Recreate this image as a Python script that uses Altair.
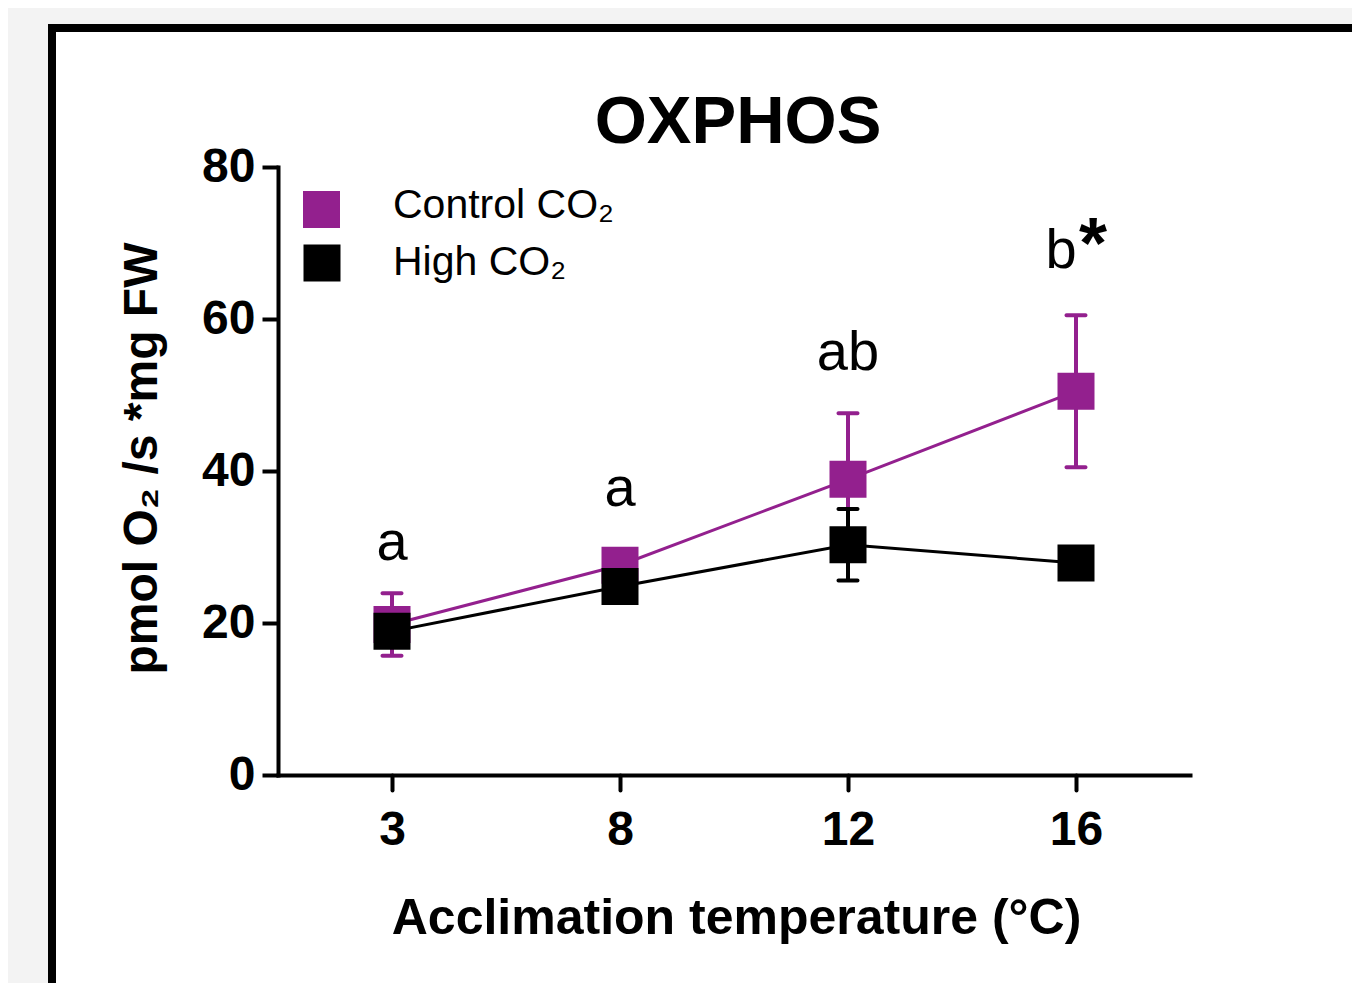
import altair as alt
import pandas as pd

# ---- data ----
temps = ["3", "8", "12", "16"]
control_mean = [19.8, 27.6, 38.9, 50.5]
control_sem = [4.1, 2.0, 8.7, 10.0]
high_mean = [18.9, 24.8, 30.3, 27.9]
high_sem = [2.0, 1.8, 4.7, 2.0]
series_names = ["Control CO₂", "High CO₂"]
series_colors = ["#93208e", "#000000"]
letters = ["a", "a", "ab", "b"]
letter_y = [28.3, 35.4, 53.3, 66.7]
star_text = ["", "", "", "*"]
y_ticks = [0, 20, 40, 60, 80]

FONT = "Liberation Sans, Arial, Helvetica, sans-serif"
W, H = 912, 608


def series_df(means, sems):
    return pd.DataFrame({
        "temp": temps,
        "mean": means,
        "lo": [m - s for m, s in zip(means, sems)],
        "hi": [m + s for m, s in zip(means, sems)],
    })


ctrl = series_df(control_mean, control_sem)
high = series_df(high_mean, high_sem)
ann = pd.DataFrame({"temp": temps, "y": letter_y, "letter": letters, "star": star_text})
one = pd.DataFrame({"k": [0]})

x_enc = alt.X(
    "temp:O",
    sort=temps,
    scale=alt.Scale(type="point", padding=0.5, domain=temps),
    axis=alt.Axis(
        title="Acclimation temperature (°C)",
        labelAngle=0,
        labelFont=FONT, labelFontSize=48, labelFontWeight="bold", labelColor="black",
        labelPadding=16,
        titleFont=FONT, titleFontSize=50, titleFontWeight="bold", titleColor="black",
        titleX=458, titleY=158, titleBaseline="alphabetic", titleAlign="center",
        domainColor="black", domainWidth=4, domainCap="square",
        tickColor="black", tickWidth=4, tickSize=15, tickCap="round",
        grid=False, zindex=1,
    ),
)
y_enc = alt.Y(
    "mean:Q",
    scale=alt.Scale(domain=[0, 80], nice=False, zero=True),
    axis=alt.Axis(
        title="pmol O₂ /s *mg FW",
        values=y_ticks,
        labelFont=FONT, labelFontSize=48, labelFontWeight="bold", labelColor="black",
        labelPadding=7,
        titleFont=FONT, titleFontSize=48, titleFontWeight="bold", titleColor="black",
        titleAngle=270, titleX=-136, titleY=291, titleBaseline="middle", titleAlign="center",
        domainColor="black", domainWidth=4, domainCap="square",
        tickColor="black", tickWidth=4, tickSize=16,
        grid=False, zindex=1,
    ),
)

# white slide panel with black frame
panel = alt.Chart(one).mark_rect(fill="white", stroke="black", strokeWidth=8).encode(
    x=alt.value(-226), x2=alt.value(W + 220), y=alt.value(-139), y2=alt.value(H + 260)
)


def series_layers(df, color):
    base = alt.Chart(df)
    rule = base.mark_rule(color=color, strokeWidth=4).encode(x=x_enc, y=alt.Y("lo:Q"), y2="hi:Q")
    cap_hi = base.mark_tick(color=color, thickness=4, size=23, cornerRadius=2, opacity=1).encode(x=x_enc, y=alt.Y("hi:Q"))
    cap_lo = base.mark_tick(color=color, thickness=4, size=23, cornerRadius=2, opacity=1).encode(x=x_enc, y=alt.Y("lo:Q"))
    line = base.mark_line(color=color, strokeWidth=3).encode(x=x_enc, y=y_enc)
    pts = base.mark_square(color=color, size=1369, opacity=1).encode(x=x_enc, y=y_enc)
    return [rule, cap_hi, cap_lo, line, pts]


layers = [panel]
layers += series_layers(ctrl, series_colors[0])
layers += series_layers(high, series_colors[1])

letter_plain = alt.Chart(ann).transform_filter(alt.datum.star == "").mark_text(
    font=FONT, fontSize=56, color="black", baseline="alphabetic", align="center"
).encode(x=x_enc, y=alt.Y("y:Q"), text="letter:N")
letter_starred = alt.Chart(ann).transform_filter(alt.datum.star != "").mark_text(
    font=FONT, fontSize=56, color="black", baseline="alphabetic", align="center", dx=-15
).encode(x=x_enc, y=alt.Y("y:Q"), text="letter:N")
star_layer = alt.Chart(ann).transform_filter(alt.datum.star != "").mark_text(
    font=FONT, fontSize=72, fontWeight="bold", color="black", baseline="alphabetic", align="center", dx=17
).encode(x=x_enc, y=alt.Y("y:Q"), text="star:N")
layers += [letter_plain, letter_starred, star_layer]

# legend (manual, at the top-left of the plot)
leg_sq_c = alt.Chart(one).mark_square(color=series_colors[0], size=1369, opacity=1).encode(
    x=alt.value(43.5), y=alt.value(42.5))
leg_sq_h = alt.Chart(one).mark_square(color=series_colors[1], size=1369, opacity=1).encode(
    x=alt.value(44), y=alt.value(96))
leg_tx_c = alt.Chart(one).mark_text(
    text=series_names[0], font=FONT, fontSize=41, color="black", align="left", baseline="alphabetic"
).encode(x=alt.value(115), y=alt.value(51))
leg_tx_h = alt.Chart(one).mark_text(
    text=series_names[1], font=FONT, fontSize=41, color="black", align="left", baseline="alphabetic"
).encode(x=alt.value(115), y=alt.value(108))
layers += [leg_sq_c, leg_sq_h, leg_tx_c, leg_tx_h]

chart = alt.layer(*layers).properties(
    width=W,
    height=H,
    title=alt.Title(
        "OXPHOS", font=FONT, fontSize=67, fontWeight="bold", color="black",
        anchor="middle", frame="group", baseline="alphabetic", offset=0, dx=4, dy=186,
    ),
    padding={"left": 270, "top": 159, "right": 162, "bottom": 208},
    autosize=alt.AutoSizeParams(type="none"),
    background="#f3f3f3",
).configure_view(stroke=None)

chart.save("out.html", embed_options={"renderer": "svg", "actions": False})
